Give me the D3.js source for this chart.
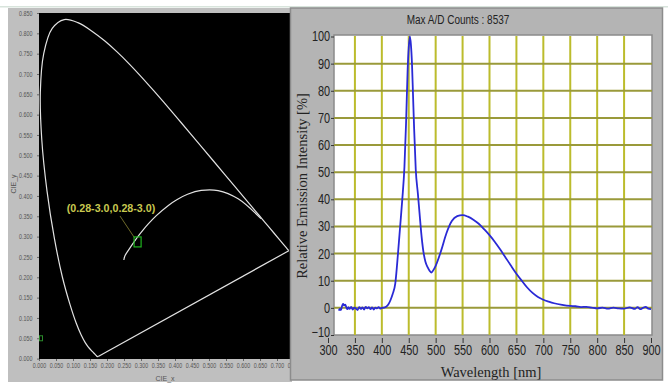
<!DOCTYPE html>
<html>
<head>
<meta charset="utf-8">
<script src="https://cdn.jsdelivr.net/npm/d3@7"></script>
<style>
  body { margin: 0; background: #fff; }
  svg { display: block; }
</style>
</head>
<body>
<div id="chart"></div>
<script>
// spectrum
const wavelengths = [320,322,324,326,328,330,332,334,336,338,340,343,346,349,352,355,358,361,364,367,370,373,376,379,382,385,388,391,394,397,400,404,408,412,416,420,425,430,434,438,442,445,448,450,452,454,456,458,460,463,467,470,473,477,481,485,489,492,496,500,510,520,530,540,550,560,570,580,590,600,610,620,630,640,650,660,670,680,690,700,710,720,735,750,760,770,780,790,800,810,820,830,840,850,860,870,875,880,885,890,895,900];
const intensity   = [-1,-0.4,-0.8,0.6,1.5,0.9,1.2,0.2,-0.5,0.3,-0.4,0.4,-0.6,0.1,-0.3,-0.8,0.3,-0.4,0.2,-0.6,0.4,-0.2,0.3,-0.5,0.2,-0.6,0.1,-0.2,0.3,-0.3,0,0.1,0.4,1.2,2.8,5,9,20,30,40,52,68,88,96,100,97,90,78,66,51,42,35,28,21,17,15,13.6,13,14,15.5,21,27.5,32,33.8,34.2,33.6,32.5,31,29,26.8,24.3,21.5,18.5,15.5,12.6,10,7.5,5.5,4,3,2.3,1.7,1.1,0.7,0.6,0.3,0.4,0.1,-0.2,0.1,-0.3,0.1,-0.2,-0.3,0.2,-0.4,0.3,-0.5,0,0.4,-0.3,-0.5];

// CIE 1931 spectral locus (x, y)
const locusX = [0.1741,0.1733,0.1714,0.1689,0.1644,0.1566,0.1440,0.1355,0.1241,0.1096,0.0913,0.0687,0.0454,0.0235,0.0082,0.0039,0.0139,0.0389,0.0743,0.1142,0.1547,0.1929,0.2296,0.2658,0.3016,0.3373,0.3731,0.4087,0.4441,0.4788,0.5125,0.5448,0.5752,0.6029,0.6270,0.6482,0.6658,0.6915,0.7079,0.7190,0.7260,0.7300,0.7347];
const locusY = [0.0050,0.0048,0.0051,0.0069,0.0109,0.0177,0.0297,0.0399,0.0578,0.0868,0.1327,0.2007,0.2950,0.4127,0.5384,0.6548,0.7502,0.8120,0.8338,0.8262,0.8059,0.7816,0.7543,0.7243,0.6923,0.6589,0.6245,0.5896,0.5547,0.5202,0.4866,0.4544,0.4242,0.3965,0.3725,0.3514,0.3340,0.3083,0.2920,0.2809,0.2740,0.2700,0.2653];

// black body curve
const planckX = [0.2495,0.2525,0.2637,0.2807,0.2952,0.3064,0.3221,0.3451,0.3805,0.4053,0.4369,0.4770,0.5267,0.5857,0.6528];
const planckY = [0.2425,0.2523,0.2674,0.2884,0.3048,0.3166,0.3318,0.3516,0.3768,0.3907,0.4041,0.4137,0.4133,0.3931,0.3444];

const markX = 0.29, markY = 0.287;
const markLabel = "(0.28-3.0,0.28-3.0)";

const cieTicksX = d3.range(0, 0.7501, 0.05);
const cieTicksY = d3.range(0, 0.8501, 0.05);
const wlTicks = d3.range(300, 901, 50);
const intTicks = d3.range(-10, 101, 10);

const width = 668, height = 392;
const svg = d3.select("#chart").append("svg")
    .attr("width", width)
    .attr("height", height);

svg.append("rect").attr("x", 0).attr("y", 6).attr("width", width).attr("height", 1.5).attr("fill", "#d8e4dc");

// ---------- left panel: CIE diagram ----------
const left = svg.append("g");
left.append("rect").attr("x", 8).attr("y", 8).attr("width", 284).attr("height", 374).attr("fill", "#bfbfbf");

const xL = d3.scaleLinear().domain([0, 0.75]).range([39, 294]);
const yL = d3.scaleLinear().domain([0, 0.85]).range([358.6, 13]);

left.append("rect").attr("x", 39).attr("y", 13).attr("width", 252).attr("height", 346).attr("fill", "#000");

const smallFont = g => {
    g.select(".domain").remove();
    g.selectAll("text").attr("font-family", "Liberation Sans, Arial, sans-serif").attr("font-size", 6.5).attr("fill", "#555");
    g.selectAll("line").attr("stroke", "#666");
};

left.append("g").attr("transform", "translate(0,359)")
    .call(d3.axisBottom(xL).tickValues(cieTicksX).tickFormat(d3.format(".3f")).tickSize(2).tickPadding(2))
    .call(smallFont)
    .call(g => g.selectAll("text").attr("transform", "scale(0.82,1)"));

left.append("g").attr("transform", "translate(39,0)")
    .call(d3.axisLeft(yL).tickValues(cieTicksY).tickFormat(d3.format(".3f")).tickSize(2).tickPadding(1))
    .call(smallFont)
    .call(g => g.selectAll("text").attr("transform", "scale(0.82,1)").attr("dx", -5));

left.append("text").attr("x", 165).attr("y", 381).attr("text-anchor", "middle")
    .attr("font-family", "Liberation Sans, Arial, sans-serif").attr("font-size", 7).attr("fill", "#555").text("CIE_x");
left.append("text").attr("transform", "translate(16,184) rotate(-90)").attr("text-anchor", "middle")
    .attr("font-family", "Liberation Sans, Arial, sans-serif").attr("font-size", 7).attr("fill", "#555").text("CIE_y");

const locusLine = d3.line().x(d => xL(d[0])).y(d => yL(d[1])).curve(d3.curveCatmullRom);
const locusPts = locusX.map((x, i) => [x, locusY[i]]);
left.append("path").datum(locusPts)
    .attr("d", locusLine).attr("fill", "none").attr("stroke", "#e2e2e2").attr("stroke-width", 1.2);
// purple line
left.append("path").datum([locusPts[locusPts.length - 1], locusPts[0]])
    .attr("d", d3.line().x(d => xL(d[0])).y(d => yL(d[1]))).attr("fill", "none").attr("stroke", "#e2e2e2").attr("stroke-width", 1.2);

left.append("path").datum(planckX.map((x, i) => [x, planckY[i]]))
    .attr("d", locusLine).attr("fill", "none").attr("stroke", "#e2e2e2").attr("stroke-width", 1.2);

// marker and label
left.append("line")
    .attr("x1", 120).attr("y1", 216).attr("x2", xL(markX) - 3).attr("y2", yL(markY) - 4)
    .attr("stroke", "#6f6a2a").attr("stroke-width", 1);
left.append("rect")
    .attr("x", xL(markX) - 3.5).attr("y", yL(markY) - 5).attr("width", 7).attr("height", 10)
    .attr("fill", "none").attr("stroke", "#1fb31f").attr("stroke-width", 1.2);
left.append("text").attr("transform", "translate(111,212) scale(0.93,1)").attr("text-anchor", "middle")
    .attr("font-family", "Liberation Sans, Arial, sans-serif").attr("font-weight", "bold").attr("font-size", 11.5)
    .attr("fill", "#c8c850").text(markLabel);
left.append("rect").attr("x", xL(0) + 0.5).attr("y", yL(0.05) - 2.5).attr("width", 3).attr("height", 5)
    .attr("fill", "none").attr("stroke", "#2a8a2a").attr("stroke-width", 1);

// ---------- right panel: spectrum ----------
const right = svg.append("g");
right.append("rect").attr("x", 290.5).attr("y", 8).attr("width", 372).attr("height", 372)
    .attr("fill", "#b4b4b4").attr("stroke", "#8c8c8c").attr("stroke-width", 1.5);

const xR = d3.scaleLinear().domain([300, 900]).range([328, 651]);
const yR = d3.scaleLinear().domain([-10, 100]).range([335, 36.5]);

right.append("rect").attr("x", 334).attr("y", 35).attr("width", 318).attr("height", 300)
    .attr("fill", "#fff").attr("stroke", "#8a8a8a").attr("stroke-width", 1.5);

right.append("g").selectAll("line").data(wlTicks.filter(d => d > 300 && d < 900)).join("line")
    .attr("x1", d => xR(d)).attr("x2", d => xR(d)).attr("y1", 36).attr("y2", 335)
    .attr("stroke", "#bcbc2c").attr("stroke-width", 2);
right.append("g").selectAll("line").data(intTicks.filter(d => d > -10 && d < 100)).join("line")
    .attr("x1", 334).attr("x2", 652).attr("y1", d => yR(d)).attr("y2", d => yR(d))
    .attr("stroke", "#9a9a3a").attr("stroke-width", 2);

const bigFont = g => {
    g.select(".domain").remove();
    g.selectAll("text").attr("font-family", "Liberation Sans, Arial, sans-serif").attr("font-size", 14).attr("fill", "#222");
    g.selectAll("line").attr("stroke", "#333");
};

right.append("g").attr("transform", "translate(0,338)")
    .call(d3.axisBottom(xR).tickValues(wlTicks).tickSize(5).tickPadding(2))
    .call(bigFont)
    .call(g => g.selectAll("text").attr("transform", "scale(0.78,1)"));

right.append("g").attr("transform", "translate(334,0)")
    .call(d3.axisLeft(yR).tickValues(intTicks).tickSize(3).tickPadding(2))
    .call(bigFont)
    .call(g => g.selectAll("text").attr("transform", "scale(0.78,1)"))
    .call(g => g.selectAll(".tick").filter(d => d === -10).select("text").attr("dy", "0.1em"));

right.append("text").attr("transform", "translate(458,24) scale(0.8,1)").attr("text-anchor", "middle")
    .attr("font-family", "Liberation Sans, Arial, sans-serif").attr("font-size", 12.5).attr("fill", "#222")
    .text("Max A/D Counts : 8537");
right.append("text").attr("transform", "translate(307,186) rotate(-90)").attr("text-anchor", "middle")
    .attr("font-family", "Liberation Serif, serif").attr("font-size", 14.5).attr("fill", "#222")
    .text("Relative Emission Intensity [%]");
right.append("text").attr("x", 491).attr("y", 377).attr("text-anchor", "middle")
    .attr("font-family", "Liberation Serif, serif").attr("font-size", 14.5).attr("fill", "#222")
    .text("Wavelength [nm]");

const spectrum = wavelengths.map((w, i) => [w, intensity[i]]);
right.append("path").datum(spectrum)
    .attr("d", d3.line().x(d => xR(d[0])).y(d => yR(d[1])).curve(d3.curveMonotoneX))
    .attr("fill", "none").attr("stroke", "#2a2ad6").attr("stroke-width", 1.8);
</script>
</body>
</html>
